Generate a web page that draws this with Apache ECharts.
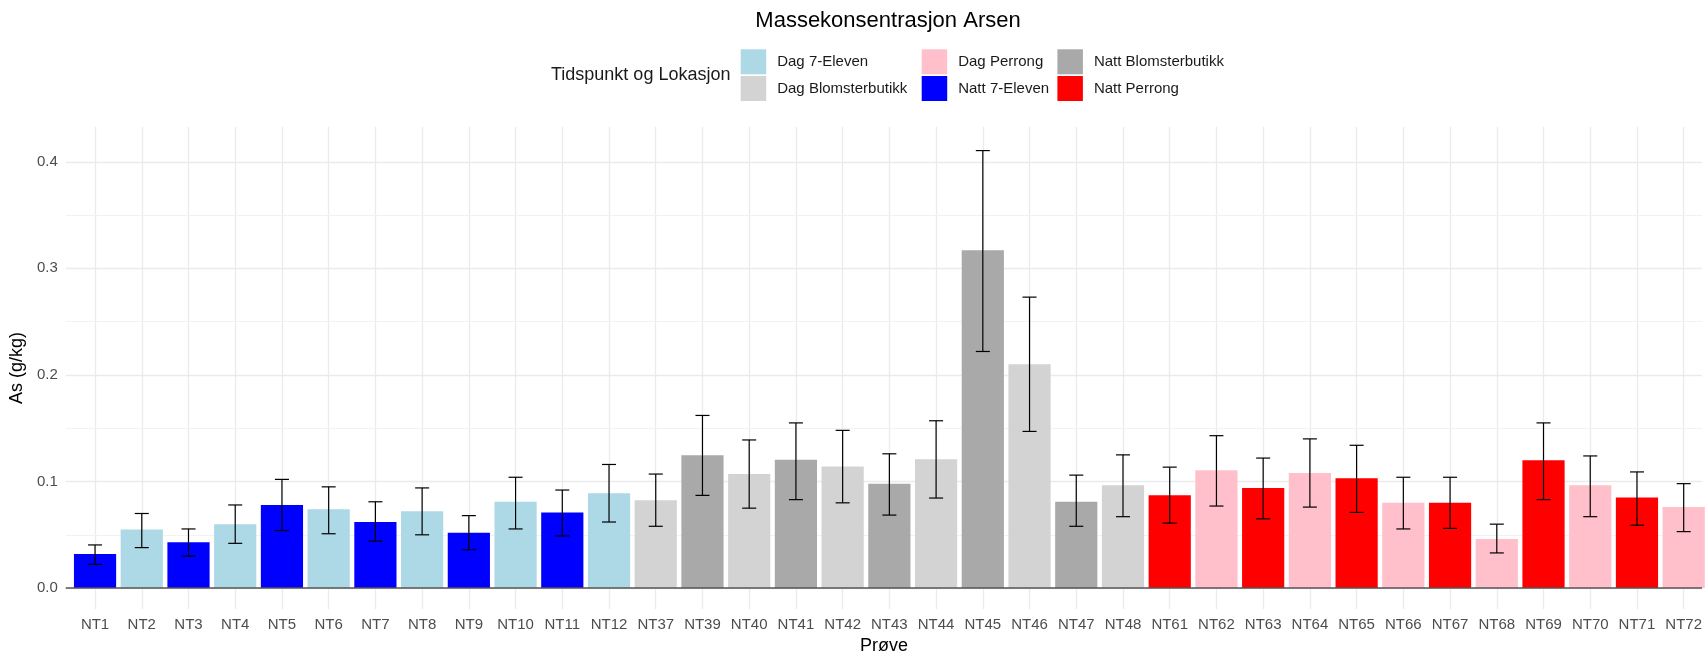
<!DOCTYPE html>
<html>
<head>
<meta charset="utf-8">
<script src="https://cdn.jsdelivr.net/npm/echarts@6/dist/echarts.min.js"></script>
<style>html,body{margin:0;padding:0;background:#fff}#c{width:1705px;height:660px}</style>
</head>
<body>
<div id="c"></div>
<script>
const categories = ['NT1','NT2','NT3','NT4','NT5','NT6','NT7','NT8','NT9','NT10','NT11','NT12',
  'NT37','NT39','NT40','NT41','NT42','NT43','NT44','NT45','NT46','NT47','NT48',
  'NT61','NT62','NT63','NT64','NT65','NT66','NT67','NT68','NT69','NT70','NT71','NT72'];
const groups = ['Natt 7-Eleven','Dag 7-Eleven','Natt 7-Eleven','Dag 7-Eleven','Natt 7-Eleven','Dag 7-Eleven',
  'Natt 7-Eleven','Dag 7-Eleven','Natt 7-Eleven','Dag 7-Eleven','Natt 7-Eleven','Dag 7-Eleven',
  'Dag Blomsterbutikk','Natt Blomsterbutikk','Dag Blomsterbutikk','Natt Blomsterbutikk','Dag Blomsterbutikk',
  'Natt Blomsterbutikk','Dag Blomsterbutikk','Natt Blomsterbutikk','Dag Blomsterbutikk','Natt Blomsterbutikk','Dag Blomsterbutikk',
  'Natt Perrong','Dag Perrong','Natt Perrong','Dag Perrong','Natt Perrong','Dag Perrong',
  'Natt Perrong','Dag Perrong','Natt Perrong','Dag Perrong','Natt Perrong','Dag Perrong'];
const values = [0.032,0.055,0.043,0.060,0.078,0.074,0.062,0.072,0.052,0.081,0.071,0.089,
  0.0825,0.1246,0.107,0.1205,0.114,0.098,0.121,0.317,0.210,0.081,0.0966,
  0.087,0.1106,0.094,0.108,0.103,0.080,0.080,0.046,0.120,0.0966,0.085,0.076];
const errLow = [0.0223,0.038,0.030,0.042,0.054,0.051,0.044,0.050,0.036,0.0555,0.049,0.062,
  0.058,0.087,0.075,0.083,0.080,0.0685,0.0845,0.222,0.147,0.058,0.067,
  0.061,0.077,0.065,0.076,0.071,0.0555,0.056,0.033,0.083,0.067,0.059,0.053];
const errHigh = [0.0405,0.070,0.0555,0.078,0.102,0.095,0.081,0.094,0.068,0.104,0.092,0.116,
  0.107,0.162,0.139,0.155,0.148,0.126,0.157,0.4105,0.273,0.106,0.125,
  0.1135,0.143,0.122,0.140,0.134,0.104,0.104,0.060,0.155,0.124,0.109,0.098];
const yTicks = [0, 0.1, 0.2, 0.3, 0.4];
const yMinorTicks = [0.05, 0.15, 0.25, 0.35];
const legendCols = [['Dag 7-Eleven','Dag Blomsterbutikk'],['Dag Perrong','Natt 7-Eleven'],['Natt Blomsterbutikk','Natt Perrong']];

const colors = {
  'Dag 7-Eleven':'#ADD8E6','Dag Blomsterbutikk':'#D3D3D3','Dag Perrong':'#FFC0CB',
  'Natt 7-Eleven':'#0000FF','Natt Blomsterbutikk':'#A9A9A9','Natt Perrong':'#FF0000'
};
const FONT = 'Liberation Sans, Arial, sans-serif';
const idx = categories.map((c,i)=>i);

const gridLines = [];
idx.forEach(i => gridLines.push({xAxis: i, lineStyle:{color:'#EBEBEB', width:1.3}}));
yTicks.forEach(v => gridLines.push({yAxis: v, lineStyle:{color:'#EBEBEB', width:1.3}}));
yMinorTicks.forEach(v => gridLines.push({yAxis: v, lineStyle:{color:'#F2F2F2', width:1}}));

const chart = echarts.init(document.getElementById('c'), null, {renderer:'canvas'});
const legendSeries = Object.keys(colors).map(name => ({
  name, type:'scatter', data:[], itemStyle:{color:colors[name], opacity:1}
}));
const legendLefts = [740.7, 921.7, 1057.4];

chart.setOption({
  animation:false,
  backgroundColor:'#fff',
  textStyle:{fontFamily:FONT},
  graphic:[
    {type:'text', x:888, y:21, style:{text:'Massekonsentrasjon Arsen', fontSize:22, fontFamily:FONT, fill:'#000', align:'center', verticalAlign:'middle'}},
    {type:'text', x:551, y:75, style:{text:'Tidspunkt og Lokasjon', fontSize:18, fontFamily:FONT, fill:'#1A1A1A', align:'left', verticalAlign:'middle'}}
  ],
  legend: legendCols.map((col, k) => ({
    data: col.map(n => ({name:n, icon:'rect'})),
    orient:'vertical', left: legendLefts[k], top:49.3, padding:0,
    itemWidth:25.5, itemHeight:25, itemGap:1.7, selectedMode:false,
    itemStyle:{opacity:1},
    textStyle:{fontSize:15, color:'#1A1A1A', fontFamily:FONT, padding:[0,0,0,6]}
  })),
  grid:{left:63.3, top:126.7, right:0, height:489.3, containLabel:false},
  xAxis:{
    type:'value', min:-0.627, max:34.393,
    axisLine:{show:false}, axisTick:{show:false}, splitLine:{show:false},
    axisLabel:{customValues: idx, formatter: v => categories[Math.round(v)], fontSize:15, color:'#4D4D4D', margin:8, fontFamily:FONT},
    name:'Prøve', nameLocation:'middle', nameGap:27,
    nameTextStyle:{fontSize:18, color:'#000', fontFamily:FONT}
  },
  yAxis:{
    type:'value', min:-0.0197, max:0.4329,
    axisLine:{show:false}, axisTick:{show:false}, splitLine:{show:false},
    axisLabel:{customValues: yTicks, formatter: v => v.toFixed(1), fontSize:15, color:'#4D4D4D', margin:8, fontFamily:FONT},
    name:'As (g/kg)', nameLocation:'middle', nameGap:23, nameRotate:90,
    nameTextStyle:{fontSize:18, color:'#000', fontFamily:FONT}
  },
  series:[
    {
      type:'bar', barWidth:42.2, z:2,
      data: idx.map(i => ({value:[i, values[i]], itemStyle:{color:colors[groups[i]]}})),
      markLine:{silent:true, symbol:'none', z:1, label:{show:false}, animation:false,
        lineStyle:{type:'solid'}, data: gridLines}
    },
    {
      type:'custom', z:3,
      data: idx.map(i => [i, errLow[i], errHigh[i]]),
      encode:{x:0, y:[1,2]},
      renderItem:(params, api) => {
        const x = api.value(0), lo = api.value(1), hi = api.value(2);
        const t = api.coord([x, hi]), b = api.coord([x, lo]);
        const half = api.size([0.3, 0])[0] / 2;
        const st = {stroke:'#000', lineWidth:1.2};
        return {type:'group', children:[
          {type:'line', shape:{x1:t[0], y1:t[1], x2:b[0], y2:b[1]}, style:st},
          {type:'line', shape:{x1:t[0]-half, y1:t[1], x2:t[0]+half, y2:t[1]}, style:st},
          {type:'line', shape:{x1:b[0]-half, y1:b[1], x2:b[0]+half, y2:b[1]}, style:st}
        ]};
      },
      markLine:{silent:true, symbol:'none', z:4, label:{show:false}, animation:false,
        lineStyle:{type:'solid', color:'#555', width:1.5}, data:[{yAxis:0}]}
    }
  ].concat(legendSeries)
});
</script>
</body>
</html>
